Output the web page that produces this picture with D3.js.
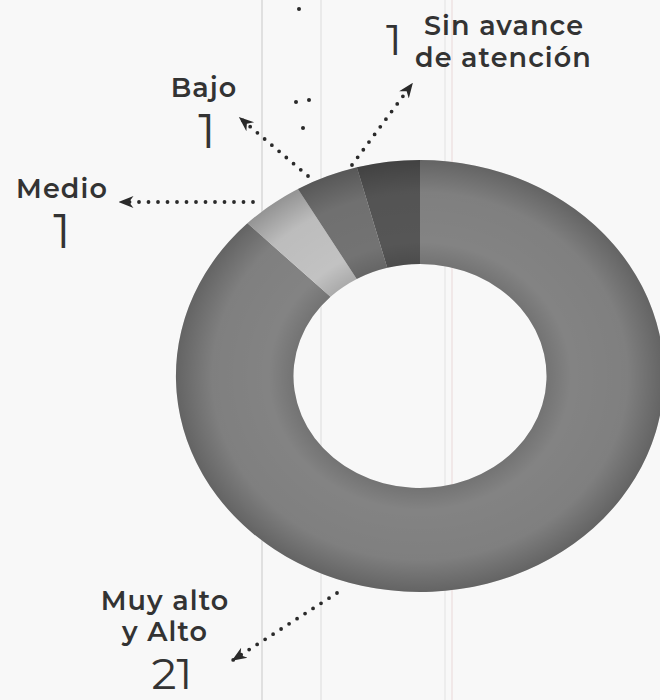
<!DOCTYPE html>
<html>
<head>
<meta charset="utf-8">
<script src="https://cdn.jsdelivr.net/npm/d3@7"></script>
<style>
  html, body { margin: 0; padding: 0; background: #f8f8f8; }
  svg { display: block; }
  .lbl { font-family: "Montserrat", Inter, "Open Sans", sans-serif; font-weight: 600; fill: #333; letter-spacing: 1.1px; }
  .num { font-family: "Montserrat", Inter, "Open Sans", sans-serif; font-weight: 400; fill: #333; }
</style>
</head>
<body>
<script>
// ---- data ----
const categories = ["Muy alto y Alto", "Medio", "Bajo", "Sin avance de atención"];
const values = [21, 1, 1, 1];
const colors = ["#838383", "#c2c2c2", "#737373", "#565656"];
const labelLines = [["Muy alto", "y Alto"], ["Medio"], ["Bajo"], ["Sin avance", "de atención"]];

const W = 660, H = 700;
const cx = 420, cy = 376, outerR = 216, innerR = 112, sx = 1.13;

const svg = d3.select("body").append("svg").attr("width", W).attr("height", H);

// faint scan lines
[[262, "#c8c8c8"], [321, "#dcdcdc"], [445, "#e2e2e2"], [452, "#ead8d8"]].forEach(([x, c]) => {
  svg.append("line").attr("x1", x).attr("x2", x).attr("y1", 0).attr("y2", H)
    .attr("stroke", c).attr("stroke-width", 1);
});

const defs = svg.append("defs");
const rg = defs.append("radialGradient").attr("id", "shade")
  .attr("gradientUnits", "userSpaceOnUse").attr("cx", 0).attr("cy", 0).attr("r", outerR);
rg.append("stop").attr("offset", innerR / outerR).attr("stop-color", "#000").attr("stop-opacity", 0.12);
rg.append("stop").attr("offset", 0.62).attr("stop-color", "#000").attr("stop-opacity", 0);
rg.append("stop").attr("offset", 0.85).attr("stop-color", "#000").attr("stop-opacity", 0.03);
rg.append("stop").attr("offset", 1).attr("stop-color", "#000").attr("stop-opacity", 0.24);

defs.append("marker").attr("id", "arrow").attr("viewBox", "0 0 10 10")
  .attr("refX", 9).attr("refY", 5).attr("markerWidth", 15).attr("markerHeight", 15)
  .attr("markerUnits", "userSpaceOnUse").attr("orient", "auto")
  .append("path").attr("d", "M0,1 L10,5 L0,9 L3,5 Z").attr("fill", "#2a2a2a");

// ---- donut ----
const pie = d3.pie().sort(null).value(d => d)
  .startAngle(0).endAngle(2 * Math.PI);
const arcs = pie(values);
const arc = d3.arc().innerRadius(innerR).outerRadius(outerR);

const g = svg.append("g").attr("transform", `translate(${cx},${cy}) scale(${sx},1)`);
g.selectAll("path.slice").data(arcs).join("path").attr("class", "slice")
  .attr("d", arc).attr("fill", (d, i) => colors[i]);
g.append("path").attr("d", d3.arc().innerRadius(innerR).outerRadius(outerR)({ startAngle: 0, endAngle: 2 * Math.PI }))
  .attr("fill", "url(#shade)");

// ---- annotations ----
const leaders = [
  [[337, 593], [233, 660]],
  [[253, 202], [120, 202]],
  [[308, 176], [240, 118]],
  [[352, 165], [412, 84]]
];
leaders.forEach(([a, b]) => {
  svg.append("line").attr("x1", a[0]).attr("y1", a[1]).attr("x2", b[0]).attr("y2", b[1])
    .attr("stroke", "#2a2a2a").attr("stroke-width", 3.8)
    .attr("stroke-linecap", "round").attr("stroke-dasharray", "0 9.5")
    .attr("marker-end", "url(#arrow)");
});
// stray dots
[[299, 9], [296, 102], [309, 100], [303, 128]].forEach(p => {
  svg.append("circle").attr("cx", p[0]).attr("cy", p[1]).attr("r", 2).attr("fill", "#2a2a2a");
});

// label texts
const labelPos = [
  { x: 165, ys: [610, 641], nx: 172, ny: 689, fs: 44 },
  { x: 62, ys: [198], nx: 62, ny: 248, fs: 48 },
  { x: 204, ys: [97], nx: 207, ny: 148, fs: 48 },
  { x: 424, ys: [35, 67], nx: 394, ny: 55, fs: 44 }
];
labelPos.forEach((p, i) => {
  const anchor = i === 3 ? "start" : "middle";
  labelLines[i].forEach((t, j) => {
    svg.append("text").attr("class", "lbl").attr("x", i === 3 ? (j === 1 ? 415 : 424) : p.x).attr("y", p.ys[j])
      .attr("text-anchor", anchor).attr("font-size", 27).text(t);
  });
  svg.append("text").attr("class", "num").attr("x", p.nx).attr("y", p.ny)
    .attr("text-anchor", "middle").attr("font-size", p.fs).text(values[i]);
});
</script>
</body>
</html>
